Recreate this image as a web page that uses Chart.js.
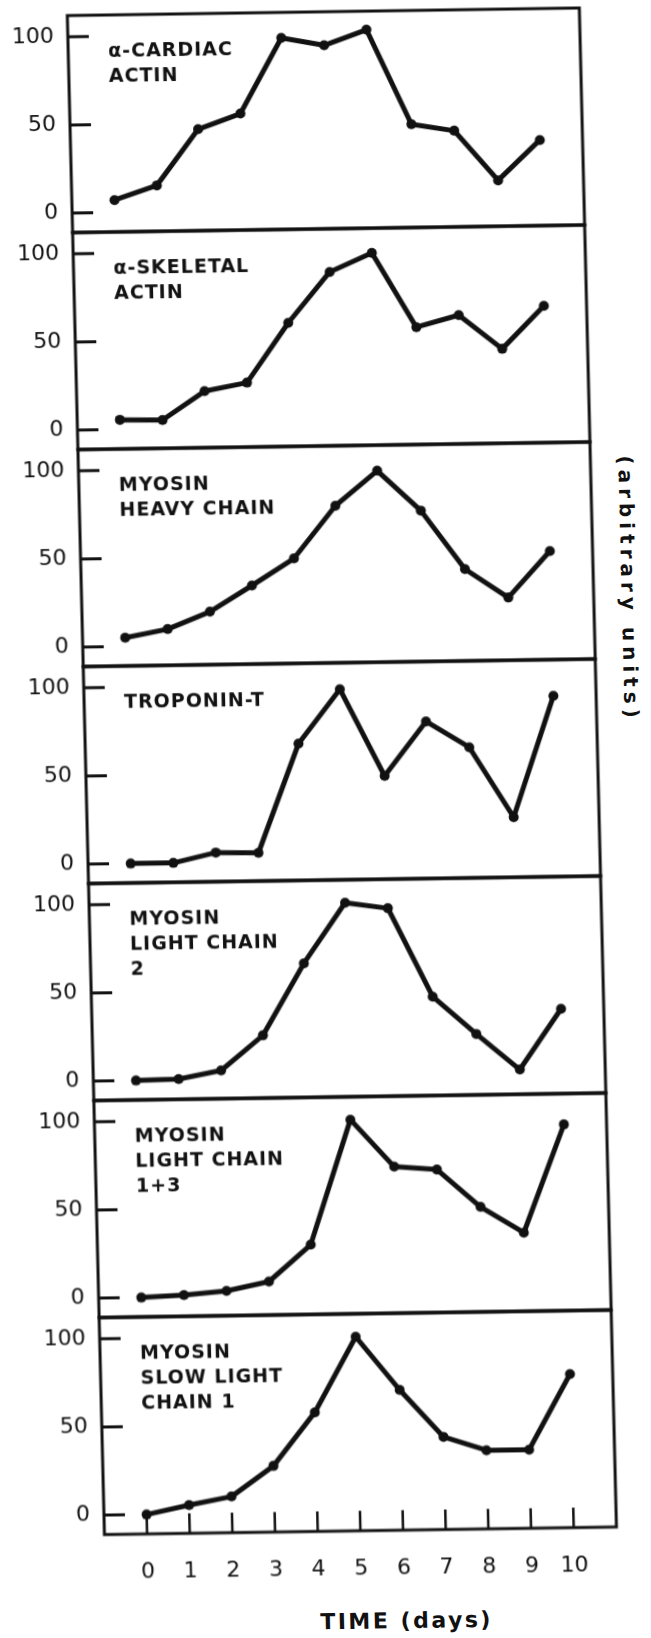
<!DOCTYPE html>
<html>
<head>
<meta charset="utf-8">
<title>Muscle protein synthesis</title>
<script src="https://cdn.jsdelivr.net/npm/chart.js@4.4.1/dist/chart.umd.min.js"></script>
<style>
    html, body { margin: 0; padding: 0; background: #fff; overflow: hidden; }
    #figure {
        position: relative;
        width: 651px;
        height: 1638px;
        /* the printed figure sits slightly askew on the page */
        transform: skew(1.4deg, -0.85deg);
        transform-origin: 325px 819px;
    }
    #figure canvas { position: absolute; left: 0; }
    #timeLabel {
        position: absolute; left: 287px; top: 1609px; width: 200px;
        text-align: center; color: #111;
        font: bold 22px "DejaVu Sans"; line-height: 26px; letter-spacing: 2.5px;
    }
    #unitsLabel {
        position: absolute; left: 622px; top: 460px;
        writing-mode: vertical-rl; color: #111;
        font: bold 20px "DejaVu Sans"; line-height: 24px; letter-spacing: 5px;
    }
</style>
</head>
<body>
<div id="figure">
    <div id="timeLabel">TIME (days)</div>
    <div id="unitsLabel">(arbitrary units)</div>
</div>
<script>
const days = [0, 1, 2, 3, 4, 5, 6, 7, 8, 9, 10];
const dayTicks = [0, 1, 2, 3, 4, 5, 6, 7, 8, 9, 10];
const levelTicks = [0, 50, 100];

// relative synthesis per day, one array per protein
const cardiacActin    = [7, 15, 46.5, 55, 97.5, 93, 101.5, 47.5, 43.5, 15, 37.5];
const skeletalActin   = [5.5, 5, 21, 25.5, 59, 87.5, 98, 55.5, 62, 42.5, 66.5];
const myosinHeavy     = [5, 9.5, 19, 33.5, 48.5, 78, 97.5, 74.5, 41, 24.5, 50.5];
const troponinT       = [0, 0, 5.5, 5, 66.5, 97, 47.5, 78, 63, 23, 91.5];
const lightChain2     = [0, 0.5, 5, 24.5, 65, 99, 95.5, 45, 23.5, 3, 37];
const lightChain13    = [0, 1, 3, 8, 28.5, 99, 72, 70, 48.5, 33.5, 94.5];
const slowLightChain1 = [0, 5, 9.5, 26.5, 56.5, 99, 68.5, 41.5, 33.5, 33.5, 76];

const panelSeries = [cardiacActin, skeletalActin, myosinHeavy, troponinT,
                     lightChain2, lightChain13, slowLightChain1];

const panelNames = [
    ['α-CARDIAC', 'ACTIN'],
    ['α-SKELETAL', 'ACTIN'],
    ['MYOSIN', 'HEAVY CHAIN'],
    ['TROPONIN-T'],
    ['MYOSIN', 'LIGHT CHAIN', '2'],
    ['MYOSIN', 'LIGHT CHAIN', '1+3'],
    ['MYOSIN', 'SLOW LIGHT', 'CHAIN 1']
];

const INK = '#111';
const PAGE_W = 651, PAGE_H = 1638;
const FRAME_LEFT = 87, FRAME_RIGHT = 599, FRAME_TOP = 12;
const PANEL_H = 217;
const EDGE = 6;        // room above/below each panel so the frame isn't clipped
const AXIS_H = 107;    // day labels under the last panel

// frame, inward tick marks and the protein name for one panel
const panelFrame = {
    id: 'panelFrame',
    beforeDatasetsDraw(chart, args, opts) {
        const { ctx, chartArea: a, scales } = chart;
        ctx.save();
        ctx.strokeStyle = INK;
        ctx.lineWidth = 3;
        ctx.strokeRect(a.left, a.top, a.right - a.left, a.bottom - a.top);

        ctx.beginPath();
        levelTicks.forEach(v => {
            const y = scales.y.getPixelForValue(v);
            ctx.moveTo(a.left, y);
            ctx.lineTo(a.left + 21, y);
        });
        ctx.stroke();

        if (opts.dayMarks) {
            ctx.lineWidth = 2.5;
            ctx.beginPath();
            dayTicks.forEach(d => {
                const x = scales.x.getPixelForValue(d);
                ctx.moveTo(x, a.bottom);
                ctx.lineTo(x, a.bottom - 20);
            });
            ctx.stroke();
        }

        ctx.fillStyle = INK;
        ctx.font = 'bold 19px "DejaVu Sans"';
        ctx.letterSpacing = '1px';
        ctx.textBaseline = 'alphabetic';
        ctx.textAlign = 'left';
        opts.name.forEach((line, k) => {
            ctx.fillText(line, a.left + 40, a.top + 42 + k * 25);
        });
        ctx.restore();
    }
};

const figure = document.getElementById('figure');

panelSeries.forEach((values, i) => {
    const isLast = i === panelSeries.length - 1;
    const top = FRAME_TOP + PANEL_H * i - EDGE;
    const height = isLast ? PAGE_H - top : PANEL_H + 2 * EDGE;

    const canvas = document.createElement('canvas');
    canvas.width = PAGE_W;
    canvas.height = height;
    canvas.style.top = top + 'px';
    figure.appendChild(canvas);

    new Chart(canvas.getContext('2d'), {
        type: 'line',
        data: {
            datasets: [{
                data: days.map((d, k) => ({ x: d, y: values[k] })),
                borderColor: INK,
                borderWidth: 5,
                borderJoinStyle: 'round',
                borderCapStyle: 'round',
                tension: 0,
                pointRadius: 5,
                pointBorderWidth: 0,
                pointBackgroundColor: INK,
                clip: false
            }]
        },
        options: {
            responsive: false,
            animation: false,
            events: [],
            layout: {
                padding: { top: EDGE, bottom: isLast ? 0 : EDGE, left: 0, right: PAGE_W - FRAME_RIGHT }
            },
            plugins: {
                legend: { display: false },
                tooltip: { enabled: false },
                panelFrame: { name: panelNames[i], dayMarks: isLast }
            },
            scales: {
                x: {
                    type: 'linear',
                    min: -1,
                    max: 11,
                    display: isLast,
                    afterBuildTicks: scale => { scale.ticks = dayTicks.map(v => ({ value: v })); },
                    afterFit: scale => {
                        scale.height = isLast ? AXIS_H : 0;
                        scale.paddingLeft = 0;
                        scale.paddingRight = 0;
                    },
                    grid: { display: false, drawTicks: false },
                    border: { display: false },
                    ticks: {
                        padding: 25,
                        color: INK,
                        font: { family: 'DejaVu Sans', size: 22 },
                        maxRotation: 0,
                        autoSkip: false
                    }
                },
                y: {
                    type: 'linear',
                    min: -11,
                    max: 112,
                    afterBuildTicks: scale => { scale.ticks = levelTicks.map(v => ({ value: v })); },
                    afterFit: scale => {
                        // tick labels sit well inside the range, no extra room needed
                        scale.width = FRAME_LEFT;
                        scale.paddingTop = 0;
                        scale.paddingBottom = 0;
                    },
                    grid: { display: false, drawTicks: false },
                    border: { display: false },
                    ticks: {
                        padding: 14,
                        color: INK,
                        font: { family: 'DejaVu Sans', size: 22 }
                    }
                }
            }
        },
        plugins: [panelFrame]
    });
});
</script>
</body>
</html>
